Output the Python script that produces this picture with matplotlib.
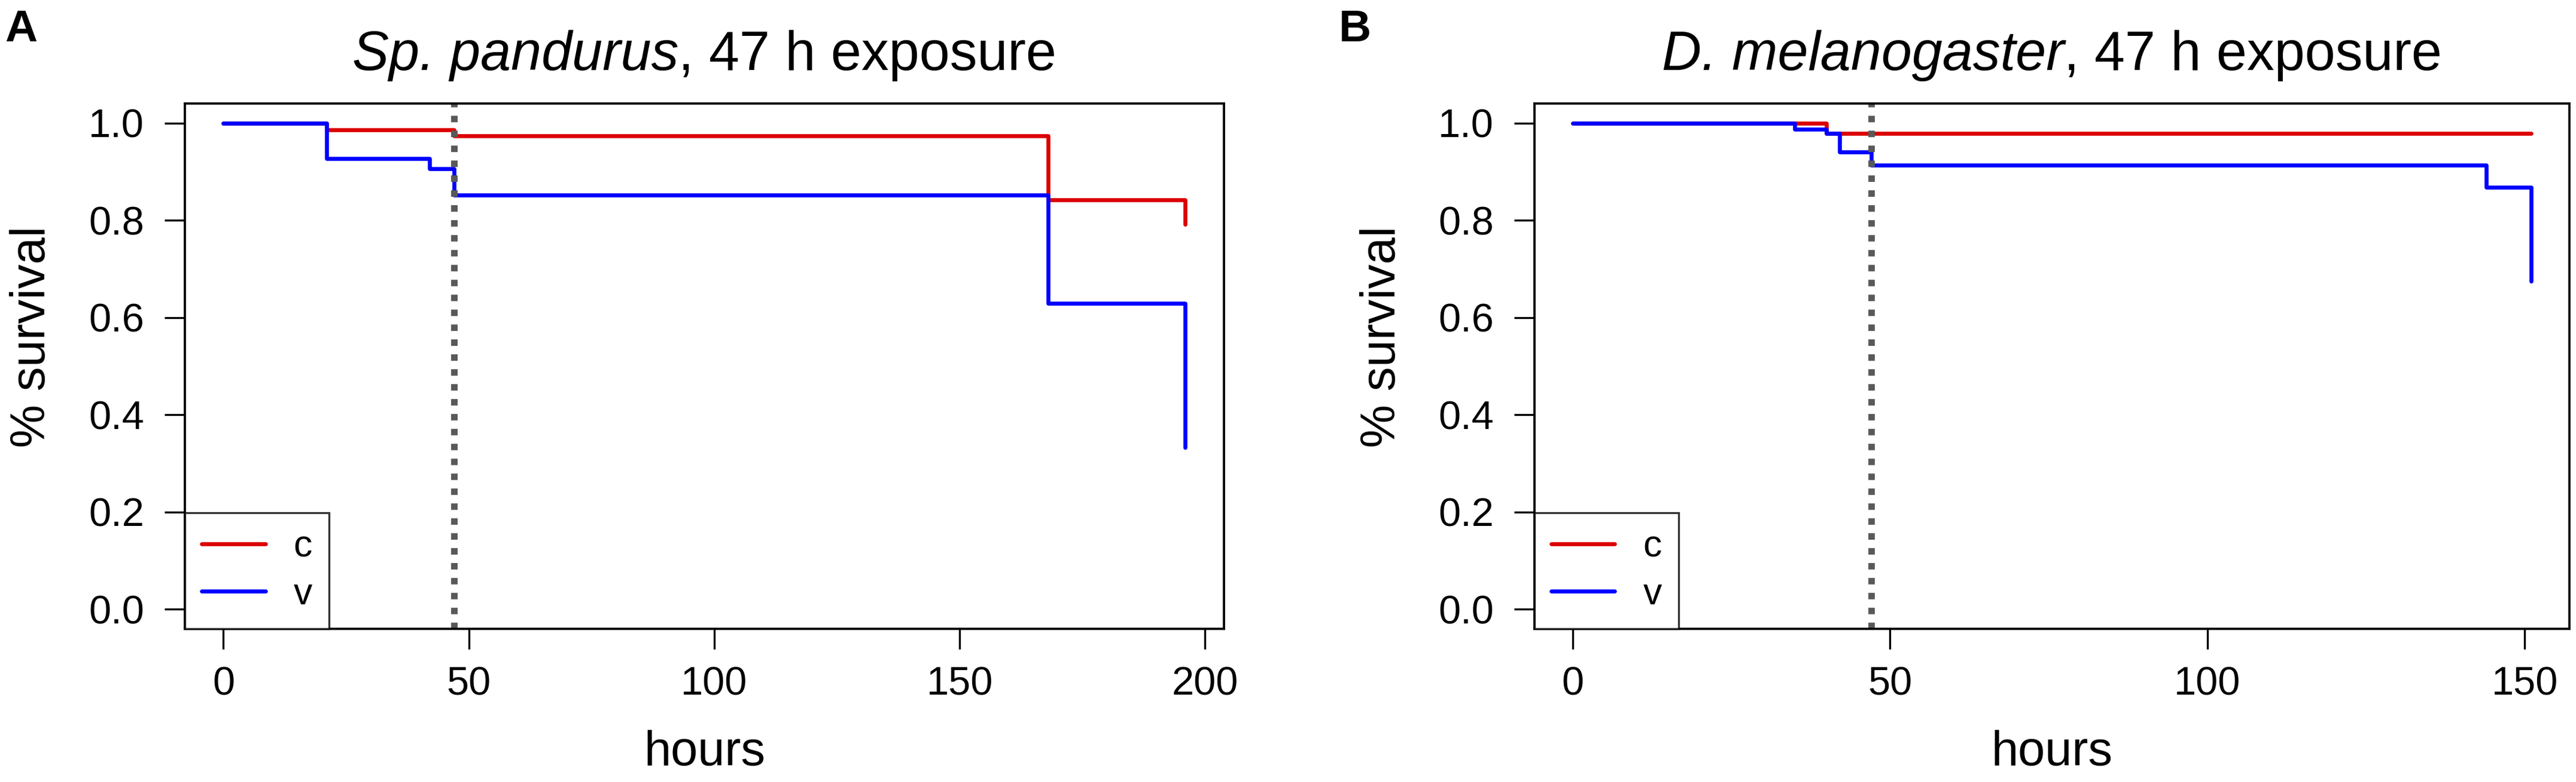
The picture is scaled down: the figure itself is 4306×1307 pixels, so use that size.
import matplotlib
matplotlib.use('Agg')
import matplotlib.pyplot as plt

plt.rcParams['font.family'] = ['Liberation Sans', 'DejaVu Sans']

# survival curves (Kaplan-Meier style steps), hours vs fraction alive
a_c_hours = [0, 21, 47, 168, 196]
a_c_surv = [1.0, 0.986, 0.974, 0.843, 0.792]
a_v_hours = [0, 21, 42, 47, 168, 196]
a_v_surv = [1.0, 0.927, 0.907, 0.852, 0.630, 0.333]

b_c_hours = [0, 40, 151]
b_c_surv = [1.0, 0.979, 0.979]
b_v_hours = [0, 35, 40, 42, 47, 144, 151]
b_v_surv = [1.0, 0.988, 0.979, 0.941, 0.914, 0.868, 0.675]

exposure = 47
species = ['Sp. pandurus', 'D. melanogaster']
title_tail = ', 47 h exposure'
xticks_a = [0, 50, 100, 150, 200]
xticks_b = [0, 50, 100, 150]
yticks = [0.0, 0.2, 0.4, 0.6, 0.8, 1.0]

red = '#DC0000'
blue = '#0000FF'

fig = plt.figure(figsize=(4306 / 300, 1307 / 300), dpi=300)
ax1 = fig.add_axes([0.0718, 0.1959, 0.4033, 0.6714])
ax2 = fig.add_axes([0.5957, 0.1959, 0.4017, 0.6714])

panels = [
    (ax1, a_c_hours, a_c_surv, a_v_hours, a_v_surv, xticks_a, species[0]),
    (ax2, b_c_hours, b_c_surv, b_v_hours, b_v_surv, xticks_b, species[1]),
]

renderer = fig.canvas.get_renderer()

for ax, ch, cs, vh, vs, xt, sp_name in panels:
    ax.step(ch, cs, where='post', color=red, lw=1.6, label='c',
            solid_capstyle='round', solid_joinstyle='round')
    ax.step(vh, vs, where='post', color=blue, lw=1.6, label='v',
            solid_capstyle='round', solid_joinstyle='round')
    ax.axvline(exposure, color='#595959', lw=2.6, linestyle=(0, (1.0, 1.3)))

    # R style 4% padding
    xmax = max(max(ch), max(vh))
    ax.set_xlim(-0.04 * xmax, 1.04 * xmax)
    ax.set_ylim(-0.04, 1.04)
    ax.set_xticks(xt)
    ax.set_yticks(yticks)
    ax.set_yticklabels(['%.1f' % t for t in yticks])
    ax.tick_params(axis='both', direction='out', length=8.2, width=0.8,
                   labelsize=16, color='black')
    ax.tick_params(axis='y', pad=8.2)
    ax.tick_params(axis='x', pad=6.7)
    for sp in ax.spines.values():
        sp.set_linewidth(0.9)
        sp.set_color('black')

    ax.set_xlabel('hours', fontsize=19.5)
    ax.set_ylabel('% survival', fontsize=19.5)
    ax.xaxis.set_label_coords(0.5, -0.193)
    ax.yaxis.set_label_coords(-0.125, 0.556)

    # title: italic species name + upright rest, centred together
    t1 = ax.text(0.5, 1.0644, sp_name, transform=ax.transAxes, ha='left',
                 va='baseline', fontsize=22, style='italic')
    t2 = ax.annotate(title_tail, xy=(1, 0), xycoords=t1, ha='left',
                     va='bottom', fontsize=22)
    w1 = t1.get_window_extent(renderer).width
    w2 = t2.get_window_extent(renderer).width
    axw = ax.get_window_extent(renderer).width
    t1.set_x(0.5 - (w1 + w2) / 2 / axw)

    leg = ax.legend(loc='lower left', bbox_to_anchor=(0, 0), borderaxespad=0,
                    fontsize=15, frameon=True, fancybox=False, edgecolor='black',
                    handlelength=1.7, handletextpad=0.75, borderpad=0.45,
                    labelspacing=0.32)
    leg.get_frame().set_linewidth(0.8)
    for line in leg.get_lines():
        line.set_linewidth(1.6)

fig.text(0.002, 0.9472, 'A', fontsize=18, fontweight='bold', va='baseline')
fig.text(0.5197, 0.9472, 'B', fontsize=18, fontweight='bold', va='baseline')

fig.savefig('out.png', dpi=300)
